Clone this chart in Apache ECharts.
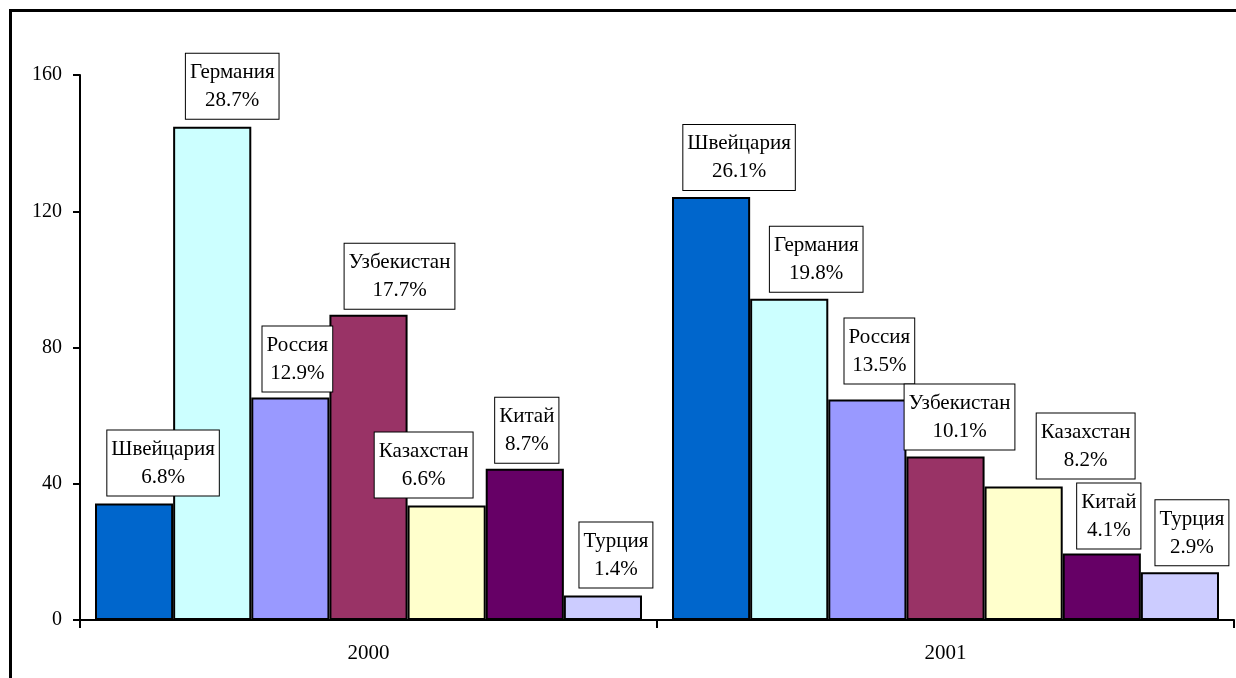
<!DOCTYPE html>
<html>
<head>
<meta charset="utf-8">
<script src="https://cdn.jsdelivr.net/npm/echarts@6/dist/echarts.min.js"></script>
<style>
  html, body { margin: 0; padding: 0; background: #fff; }
  #chart { width: 1236px; height: 678px; }
</style>
</head>
<body>
<div id="chart"></div>
<script>
// Categories (years) and series (countries)
const years = ['2000', '2001'];
const countries = ['Швейцария', 'Германия', 'Россия', 'Узбекистан', 'Казахстан', 'Китай', 'Турция'];

// Volumes per country, one array per year
const values2000 = [34.2, 144.8, 65.3, 89.6, 33.6, 44.4, 7.2];
const values2001 = [124.2, 94.3, 64.7, 48.0, 39.2, 19.5, 14.0];

// Shares (%) printed in the data labels
const shares2000 = [6.8, 28.7, 12.9, 17.7, 6.6, 8.7, 1.4];
const shares2001 = [26.1, 19.8, 13.5, 10.1, 8.2, 4.1, 2.9];

// Value-axis ticks
const yTicks = [0, 40, 80, 120, 160];

// Layout: series colours and hand-placed label nudges [dx, dy] for 2000 / 2001
const colors = ['#0066CC', '#CCFFFF', '#9999FF', '#993366', '#FFFFCC', '#660066', '#CCCCFF'];
const labelNudge2000 = [[29, -1], [20, -1], [7, 1], [31, 1], [-23, -1], [2, 1], [13, -1]];
const labelNudge2001 = [[28, 0], [27, 0], [12, -9], [14, 0], [62, -1], [7, 2], [12, 0]];

const FONT = '"Liberation Serif", "Times New Roman", serif';

const series = countries.map((name, i) => ({
  name: name,
  type: 'bar',
  barGap: '0%',
  barCategoryGap: '5.2%',
  itemStyle: { color: colors[i], borderColor: '#000', borderWidth: 2 },
  label: {
    show: true,
    position: 'top',
    distance: 7,
    fontFamily: FONT,
    fontSize: 21,
    lineHeight: 28,
    color: '#000',
    align: 'center',
    backgroundColor: '#fff',
    borderColor: '#000',
    borderWidth: 1,
    padding: [5, 4, 4, 4],
    formatter: p => {
      const share = p.dataIndex === 0 ? shares2000[i] : shares2001[i];
      return name + '\n' + share.toFixed(1) + '%';
    }
  },
  data: [
    { value: values2000[i], label: { offset: labelNudge2000[i] } },
    { value: values2001[i], label: { offset: labelNudge2001[i] } }
  ]
}));

const chart = echarts.init(document.getElementById('chart'), null, { renderer: 'canvas' });
chart.setOption({
  animation: false,
  backgroundColor: '#fff',
  grid: { left: 80, right: 2, top: 75, bottom: 58 },
  xAxis: {
    type: 'category',
    data: years,
    axisLine: { lineStyle: { color: '#000', width: 2 } },
    axisTick: { show: true, length: 8, lineStyle: { color: '#000', width: 2 } },
    axisLabel: { fontFamily: FONT, fontSize: 21, color: '#000', margin: 23 }
  },
  yAxis: {
    type: 'value',
    min: yTicks[0],
    max: yTicks[yTicks.length - 1],
    interval: yTicks[1] - yTicks[0],
    splitLine: { show: false },
    axisLine: { show: true, lineStyle: { color: '#000', width: 2 } },
    axisTick: { show: true, length: 7, lineStyle: { color: '#000', width: 2 } },
    axisLabel: { fontFamily: FONT, fontSize: 20, color: '#000', margin: 18 }
  },
  graphic: [{
    type: 'rect',
    shape: { x: 10.5, y: 10.5, width: 1260, height: 700 },
    style: { fill: null, stroke: '#000', lineWidth: 3 },
    silent: true
  }],
  series: series
});
</script>
</body>
</html>
